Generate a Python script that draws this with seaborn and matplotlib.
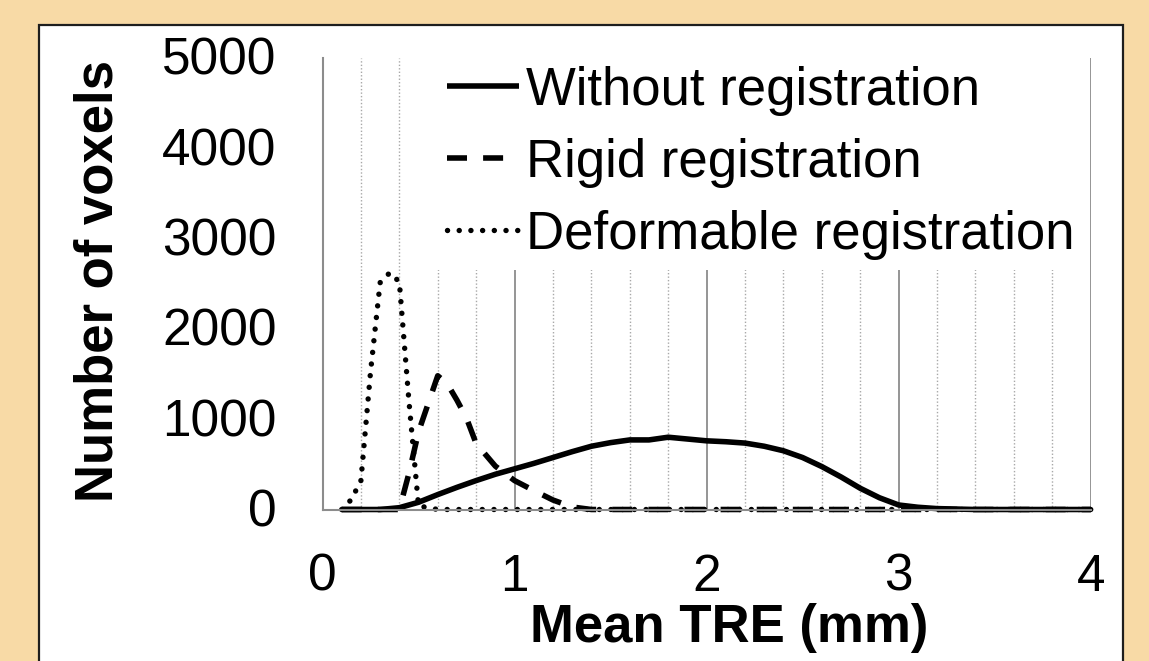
import numpy as np
import pandas as pd
import matplotlib
matplotlib.use("Agg")
import matplotlib.pyplot as plt
from matplotlib.patches import Rectangle
from matplotlib.ticker import MultipleLocator
from matplotlib.transforms import ScaledTranslation
import seaborn as sns

# mean TRE (mm) vs number of voxels
x_without = np.round(np.arange(0.1, 4.01, 0.1), 1)
without_reg = [0, 0, 0, 20, 80, 165, 245, 320, 390, 450,
               510, 575, 640, 700, 740, 770, 770, 800, 780, 760,
               750, 735, 700, 650, 575, 475, 360, 235, 130, 50,
               25, 10, 5, 0, 0, 0, 0, 0, 0, 0]

x_rigid = [0.1, 0.2, 0.3, 0.4, 0.45, 0.5, 0.55, 0.6, 0.65, 0.7, 0.75, 0.8] + \
    list(np.round(np.arange(0.9, 4.01, 0.1), 1))
rigid_reg = [0, 0, 0, 0, 400, 860, 1170, 1480, 1390, 1210, 1010, 730,
             480, 320, 210, 105, 28] + [0] * 27

x_deform = [0.1, 0.15, 0.2, 0.25, 0.3, 0.35, 0.4, 0.45, 0.5] + \
    list(np.round(np.arange(0.6, 4.01, 0.1), 1))
deform_reg = [0, 110, 320, 1520, 2510, 2620, 2520, 1200, 40] + [0] * 35

labels = ["Without registration", "Rigid registration", "Deformable registration"]

sns.set_style("white")
plt.rcParams["font.family"] = ["Liberation Sans", "DejaVu Sans"]
plt.rcParams["text.color"] = "black"
plt.rcParams["axes.labelcolor"] = "black"
plt.rcParams["xtick.labelcolor"] = "black"
plt.rcParams["ytick.labelcolor"] = "black"

W, H = 1149, 661
fig = plt.figure(figsize=(W / 100, H / 100), dpi=100, facecolor="#F8DAA6")

# white panel with dark frame
panel = Rectangle((39 / W, -0.05), (1123 - 39) / W, 1.05 - 25 / H,
                  transform=fig.transFigure, facecolor="white",
                  edgecolor="#1e1e1e", linewidth=1.6, zorder=-1)
fig.patches.append(panel)

ax = fig.add_axes([322.5 / W, 1 - 509.5 / H, (1090.7 - 322.5) / W, (509.5 - 57.7) / H])
ax.set_facecolor("none")

sns.lineplot(x=x_without, y=without_reg, ax=ax, color="black", linewidth=4.0,
             label=labels[0], clip_on=False, solid_capstyle="butt")
sns.lineplot(x=x_rigid, y=rigid_reg, ax=ax, color="black", linewidth=4.0,
             linestyle=(0, (3.6, 2.9)), label=labels[1], clip_on=False)
sns.lineplot(x=x_deform, y=deform_reg, ax=ax, color="black", linewidth=3.9,
             linestyle=(0, (0.01, 2.15)), dash_capstyle="round",
             label=labels[2], clip_on=False)

ax.set_xlim(0, 4)
ax.set_ylim(0, 5000)
ax.set_xticks([0, 1, 2, 3, 4])
ax.set_yticks([0, 1000, 2000, 3000, 4000, 5000])
ax.xaxis.set_minor_locator(MultipleLocator(0.2))

grey = "#8c8c8c"
ax.grid(False)
ax.grid(which="major", axis="x", color=grey, linewidth=1.3, linestyle="-")
ax.grid(which="minor", axis="x", color="#a8a8a8", linewidth=1.0, linestyle=(0, (1, 1.5)))
ax.set_axisbelow(True)

for s in ["top", "right"]:
    ax.spines[s].set_visible(False)
for s in ["left", "bottom"]:
    ax.spines[s].set_color(grey)
    ax.spines[s].set_linewidth(1.5)

ax.tick_params(axis="x", which="major", direction="out", length=11, width=1.3,
               color=grey, labelsize=37, pad=20)
ax.tick_params(axis="x", which="minor", direction="in", length=8.6, width=1.0, color=grey)
ax.tick_params(axis="y", which="major", direction="out", length=11, width=1.3,
               color=grey, labelsize=37, pad=22)
shift = ScaledTranslation(0, -3.5 / 100, fig.dpi_scale_trans)
for t in ax.get_yticklabels():
    t.set_va("center")
    t.set_transform(t.get_transform() + shift)

ax.set_xlabel("Mean TRE (mm)", fontsize=38, fontweight="bold")
ax.xaxis.label.set_va("baseline")
ax.xaxis.set_label_coords(0.529, -0.2926)
ax.set_ylabel("Number of voxels", fontsize=38, fontweight="bold")
ax.yaxis.label.set_va("baseline")
ax.yaxis.set_label_coords(-0.274, 0.506)

leg = ax.legend(loc="upper left", bbox_to_anchor=(436 / W, 1 - 55 / H),
                bbox_transform=fig.transFigure, borderaxespad=0, borderpad=0.2,
                fontsize=38, handlelength=1.38, handletextpad=0.12,
                labelspacing=0.42, frameon=True, fancybox=False)
leg.get_frame().set_facecolor("white")
leg.get_frame().set_edgecolor("none")
leg.get_frame().set_alpha(1)

fig.savefig("out.png", dpi=100, facecolor=fig.get_facecolor())
